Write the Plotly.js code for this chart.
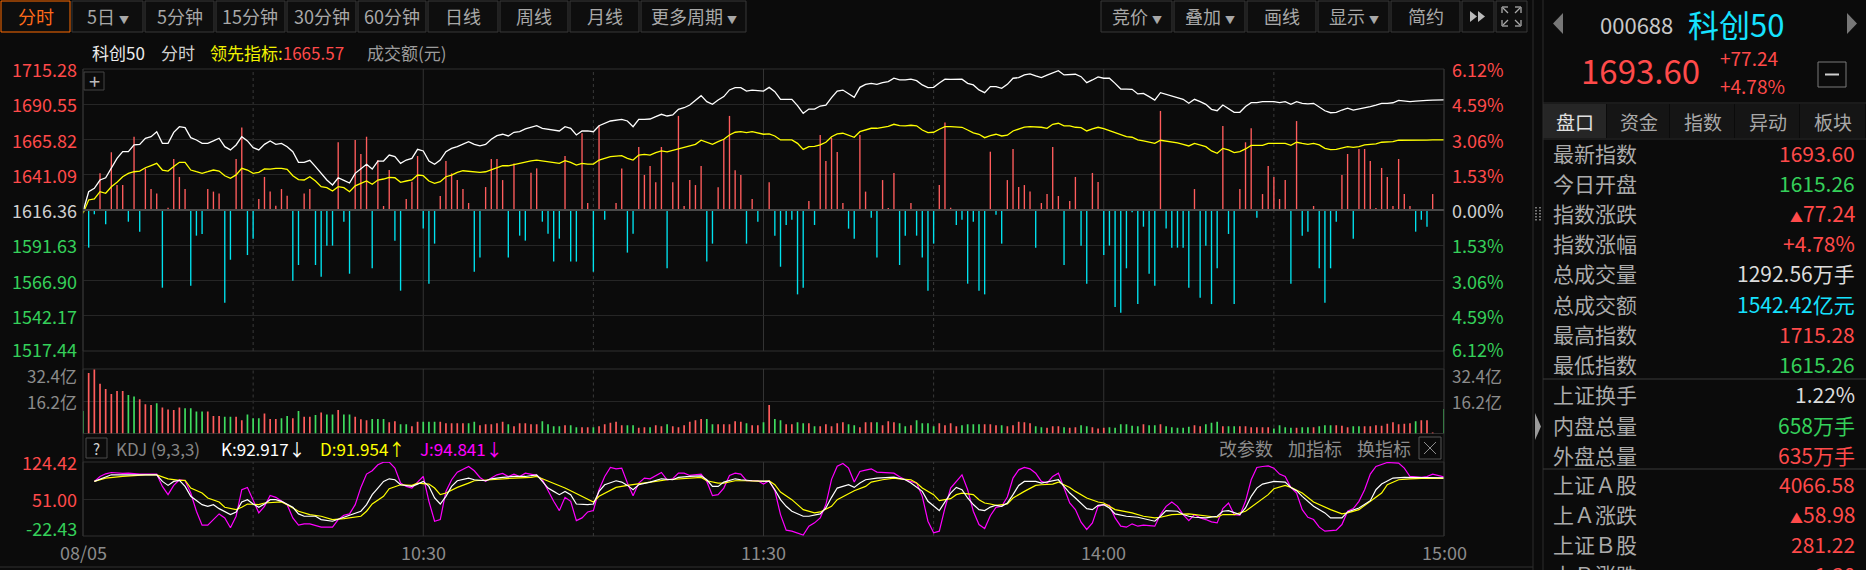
<!DOCTYPE html>
<html><head><meta charset="utf-8">
<script src="https://cdn.plot.ly/plotly-3.0.1.min.js"></script>
<style>html,body{margin:0;padding:0;background:#0b0b0b;overflow:hidden}#chart{width:1866px;height:570px}</style>
</head><body><div id="chart"></div>
<script>
// ---------------- DATA ----------------
const prevClose = 1616.36;
const priceTicks = [1715.28,1690.55,1665.82,1641.09,1616.36,1591.63,1566.90,1542.17,1517.44];
const pctTicks = ['6.12%','4.59%','3.06%','1.53%','0.00%','1.53%','3.06%','4.59%','6.12%'];
const volTicks = [32.4,16.2];
const volTickText = ['32.4亿','16.2亿'];
const kdjTicks = [124.42,51.00,-22.43];
const kdjTickText = ['124.42','51.00','-22.43'];
const timeTickIdx = [0,60,120,180,240];
const timeTickText = ['08/05','10:30','11:30','14:00','15:00'];
const solidTimeIdx = [60,120,180];
const dotTimeIdx = [30,90,150,210];

// white line: minute index, index value
const pricePts = [[0,1615.26],[1,1629.2],[2,1631.6],[3,1637.4],[4,1639.0],[5,1645.6],[6,1652.6],[7,1657.3],[8,1657.3],[9,1662.0],[10,1662.4],[11,1666.7],[12,1667.8],[13,1671.3],[14,1663.1],[15,1663.1],[16,1670.8],[17,1674.8],[18,1674.1],[19,1667.1],[20,1665.5],[21,1663.1],[22,1663.1],[23,1664.8],[24,1666.7],[25,1660.8],[26,1658.5],[27,1662.0],[28,1667.8],[29,1664.8],[30,1660.1],[31,1658.5],[32,1662.4],[33,1664.8],[34,1662.4],[35,1663.1],[36,1660.8],[37,1657.3],[38,1649.8],[39,1649.8],[40,1651.2],[41,1646.8],[42,1642.1],[43,1637.4],[44,1633.9],[45,1639.0],[46,1637.2],[47,1635.3],[48,1642.1],[50,1648.4],[51,1645.1],[52,1650.7],[53,1650.7],[54,1654.9],[55,1653.8],[56,1649.1],[57,1651.4],[58,1652.6],[59,1658.9],[60,1657.8],[61,1650.7],[62,1648.4],[63,1651.4],[64,1657.3],[65,1659.6],[66,1660.8],[68,1664.3],[69,1662.4],[70,1661.3],[71,1662.4],[72,1666.0],[73,1668.5],[74,1669.5],[75,1668.3],[76,1670.9],[77,1671.3],[78,1673.2],[80,1675.5],[81,1673.7],[82,1673.2],[83,1672.5],[84,1671.8],[85,1674.8],[86,1673.7],[87,1669.0],[88,1671.8],[89,1671.8],[90,1671.3],[91,1675.5],[92,1677.2],[93,1678.8],[95,1680.0],[96,1678.8],[97,1674.8],[98,1680.0],[99,1680.0],[100,1680.2],[101,1681.8],[102,1683.5],[103,1682.3],[104,1683.0],[105,1687.0],[106,1688.1],[107,1690.0],[108,1693.5],[109,1696.6],[110,1692.4],[111,1690.5],[112,1693.5],[113,1695.9],[114,1700.6],[115,1702.2],[116,1702.2],[117,1699.8],[118,1700.5],[119,1700.2],[120,1699.8],[121,1702.4],[122,1699.4],[123,1694.0],[124,1694.0],[125,1694.0],[126,1689.6],[127,1684.2],[128,1687.2],[129,1687.2],[130,1689.3],[131,1690.0],[132,1695.2],[133,1699.8],[134,1700.5],[135,1698.2],[136,1695.4],[137,1702.4],[138,1704.5],[139,1705.2],[140,1704.5],[141,1705.7],[142,1706.4],[143,1708.8],[144,1707.6],[145,1707.6],[146,1708.1],[147,1707.1],[148,1704.1],[149,1702.2],[150,1702.4],[151,1705.5],[152,1708.1],[153,1708.0],[154,1708.0],[155,1708.1],[156,1705.2],[157,1704.1],[158,1700.6],[159,1698.7],[160,1702.9],[161,1702.9],[162,1701.7],[163,1704.5],[164,1708.8],[165,1709.2],[166,1711.1],[167,1711.8],[168,1710.4],[169,1709.2],[170,1711.0],[171,1712.7],[172,1714.1],[173,1711.1],[174,1711.1],[175,1711.6],[176,1709.9],[177,1705.7],[178,1707.6],[179,1709.7],[180,1708.8],[181,1708.8],[182,1705.2],[183,1701.2],[184,1701.2],[185,1701.0],[186,1697.8],[187,1698.2],[188,1695.9],[189,1693.5],[190,1698.7],[191,1697.6],[192,1696.6],[193,1695.4],[194,1694.0],[195,1691.2],[196,1694.0],[197,1692.4],[198,1690.5],[199,1687.0],[200,1686.0],[201,1690.0],[202,1687.7],[203,1684.9],[204,1684.9],[205,1689.0],[206,1691.7],[207,1691.7],[208,1692.4],[209,1692.4],[210,1692.4],[211,1691.7],[212,1692.4],[213,1690.5],[214,1692.4],[215,1691.2],[216,1690.8],[217,1691.2],[218,1688.5],[219,1686.0],[220,1684.6],[221,1684.9],[222,1686.5],[223,1687.8],[224,1686.5],[225,1687.2],[226,1687.8],[227,1688.9],[228,1690.0],[229,1691.2],[230,1691.2],[231,1691.6],[232,1693.3],[233,1692.8],[234,1692.4],[235,1692.8],[236,1693.3],[237,1693.3],[238,1693.4],[239,1693.5],[240,1693.6]];

// yellow line: 领先指标
const leadPts = [[0,1614.0],[1,1623.4],[2,1624.1],[3,1629.2],[4,1628.1],[5,1632.7],[6,1635.8],[7,1639.7],[8,1642.0],[9,1643.2],[10,1643.7],[11,1646.0],[12,1647.5],[13,1649.1],[14,1644.4],[15,1643.7],[16,1646.8],[17,1649.8],[18,1649.8],[19,1644.4],[20,1643.2],[21,1642.1],[22,1643.2],[23,1644.4],[24,1643.7],[25,1640.4],[26,1638.6],[27,1641.0],[28,1645.6],[29,1644.4],[30,1642.1],[31,1642.8],[32,1645.2],[33,1645.0],[34,1645.6],[35,1645.6],[36,1644.9],[37,1640.4],[38,1637.7],[39,1637.4],[40,1639.7],[41,1636.7],[42,1632.7],[43,1632.0],[44,1629.7],[45,1632.7],[46,1632.0],[47,1629.2],[48,1633.3],[50,1636.7],[51,1634.4],[52,1637.4],[53,1638.1],[54,1639.3],[55,1639.0],[56,1635.8],[57,1636.7],[58,1637.4],[59,1640.9],[60,1640.4],[61,1636.7],[62,1635.1],[63,1636.2],[64,1639.7],[65,1640.9],[66,1642.8],[67,1643.9],[68,1643.5],[69,1643.2],[70,1642.8],[71,1643.2],[72,1644.5],[73,1645.6],[74,1647.4],[75,1647.4],[76,1648.4],[77,1649.1],[78,1650.3],[79,1650.9],[80,1651.4],[81,1650.7],[82,1650.3],[83,1649.5],[84,1649.1],[85,1651.0],[86,1649.8],[87,1647.9],[88,1649.1],[89,1648.6],[90,1648.6],[91,1651.4],[92,1652.6],[93,1653.8],[95,1654.5],[96,1652.6],[97,1651.4],[98,1654.9],[99,1655.4],[100,1654.9],[101,1656.6],[102,1657.8],[103,1657.1],[104,1658.2],[105,1659.6],[106,1660.6],[107,1661.5],[108,1662.4],[109,1665.3],[110,1663.6],[111,1662.4],[112,1664.3],[113,1666.0],[114,1669.0],[115,1670.9],[116,1671.3],[117,1670.6],[118,1671.3],[119,1670.5],[120,1669.5],[121,1669.8],[122,1668.3],[123,1665.5],[124,1665.5],[125,1665.5],[126,1663.1],[127,1658.9],[128,1660.8],[129,1661.0],[130,1662.0],[131,1663.9],[132,1667.8],[133,1669.7],[134,1670.2],[135,1669.0],[136,1667.4],[137,1671.3],[138,1672.7],[139,1673.7],[140,1673.7],[141,1674.1],[142,1675.0],[143,1676.5],[144,1675.6],[145,1675.4],[146,1675.8],[147,1675.4],[148,1672.5],[149,1670.6],[150,1670.9],[151,1673.0],[152,1674.8],[153,1674.8],[154,1674.8],[155,1674.4],[156,1672.5],[157,1670.5],[158,1669.5],[159,1667.1],[160,1668.5],[161,1669.5],[162,1668.3],[163,1668.8],[164,1671.8],[165,1673.0],[166,1674.5],[167,1674.8],[168,1674.8],[169,1674.4],[170,1673.7],[171,1676.5],[172,1677.2],[173,1675.4],[174,1675.4],[175,1674.4],[176,1674.1],[177,1671.8],[178,1673.2],[179,1674.4],[180,1673.5],[181,1672.0],[182,1670.5],[183,1669.5],[184,1667.8],[185,1667.4],[186,1665.5],[187,1664.8],[188,1663.7],[189,1663.1],[190,1665.3],[191,1664.8],[192,1664.3],[193,1663.5],[194,1662.4],[195,1661.3],[196,1663.1],[197,1662.0],[198,1660.8],[199,1657.8],[200,1656.1],[201,1659.6],[202,1658.5],[203,1656.6],[204,1657.3],[205,1659.2],[206,1661.7],[207,1661.7],[208,1661.7],[209,1663.1],[210,1663.1],[211,1663.1],[212,1663.1],[213,1661.7],[214,1663.9],[215,1663.1],[216,1662.4],[217,1663.1],[218,1662.0],[219,1659.6],[220,1658.7],[221,1658.9],[222,1660.0],[223,1660.8],[224,1660.3],[225,1660.8],[226,1662.0],[227,1662.4],[228,1662.8],[229,1663.9],[230,1664.0],[231,1664.3],[232,1665.3],[233,1665.3],[234,1664.9],[235,1665.3],[236,1665.4],[237,1665.4],[238,1665.5],[239,1665.5],[240,1665.57]];

// red / cyan bars around the previous close (index points)
const barPts = [[1,-26.4],[2,-3],[3,25.7],[4,-10],[5,40.5],[6,17.5],[7,17.5],[8,-8.2],[9,51.4],[10,-15.2],[11,29.2],[12,14.7],[13,11.5],[14,-54.5],[15,1.6],[16,35.8],[17,23.2],[18,14.7],[19,-53.1],[20,-18],[21,-16.8],[22,14.7],[23,12.9],[24,11.5],[25,-65],[26,-34.9],[27,35.8],[28,57.8],[29,-31.6],[30,-20.1],[31,7.7],[32,23.2],[33,12.9],[34,3],[35,14.7],[36,10],[37,-49.6],[38,-38.6],[39,11.5],[40,14.7],[41,-38.6],[42,-46.8],[43,-25],[44,-25],[45,47.5],[46,-8.2],[47,-44.7],[48,49.1],[49,39.3],[50,51.4],[51,-40.9],[52,35.1],[53,2.8],[54,28.1],[55,-21.5],[56,-56.6],[57,7.7],[58,19.9],[59,37.9],[60,-12.9],[61,-51.7],[62,-23.6],[63,9.8],[64,34.4],[65,25.7],[66,21],[67,14.7],[68,4.9],[69,-43.3],[70,-33.4],[71,16.1],[72,35.8],[73,35.8],[74,21],[75,-33.4],[76,32.7],[77,-18],[78,-21.5],[79,26.2],[80,29.2],[81,-8.2],[82,-16.6],[83,-36.2],[84,-20.1],[85,37.9],[86,-36.2],[87,-36.2],[88,53.8],[89,4.9],[90,-43.3],[91,59.2],[92,-6.8],[94,4.9],[95,29.2],[96,-29.9],[97,-16.6],[98,44.2],[99,24.6],[100,30.9],[101,19.4],[102,44.2],[103,-40.9],[104,19.4],[105,66],[106,2.8],[107,21],[108,17.5],[109,30.9],[110,-36.2],[111,-23.6],[112,15.9],[113,49.8],[114,66],[115,27.8],[116,24.6],[117,-23.6],[118,7.7],[119,-8.2],[121,19.4],[122,-18],[123,-39.8],[124,-10.5],[125,-6.8],[126,-59.2],[127,-54.5],[128,6.3],[129,-10.5],[130,52.6],[131,34.4],[132,50.7],[133,40.7],[134,4.9],[135,-13.1],[136,-20.1],[137,52.6],[138,12.9],[139,-5.4],[140,-33.4],[141,21],[142,1.4],[143,26],[144,-38.6],[145,-18],[146,4.9],[147,-18],[148,-33.4],[149,-56.6],[150,-23.6],[151,17.5],[152,61.3],[153,1.6],[154,-10.5],[155,-6.8],[156,-51.7],[157,-8.2],[158,-56.6],[159,-59.2],[160,40.9],[161,-3.3],[162,-23.6],[163,21],[164,42.8],[165,16.1],[166,17.5],[167,12.9],[168,-26.4],[169,4.9],[170,11.2],[171,44.2],[172,9.8],[173,-38.6],[174,6.3],[175,23.2],[176,-25],[177,-51.7],[178,26],[179,19.6],[180,-31.6],[181,-25],[182,-68],[183,-72],[184,-40.9],[185,-1.6],[186,-66],[187,-11.7],[188,-44.7],[189,-53.1],[190,69.5],[191,-12.9],[192,-26.4],[193,-26.4],[194,-26.4],[195,-54.5],[196,14.7],[197,-61.5],[198,-25],[199,-66],[200,-40.9],[201,58.9],[202,-16.8],[203,-66],[204,14.7],[205,47.5],[206,57.3],[207,-5.4],[208,11.2],[209,30.9],[210,23.2],[211,7.7],[212,21],[213,-51.7],[214,62.4],[215,-18],[216,-15.2],[217,2.8],[218,-40.9],[219,-65],[220,-40.9],[221,-8.2],[222,24.6],[223,39.3],[224,-20.1],[225,42.8],[226,42.8],[227,34.4],[228,1.4],[229,29.5],[230,23.2],[231,2.8],[232,35.8],[233,11.2],[234,2.8],[235,-15.2],[236,-6.8],[237,-11.7],[238,11.2]];

// turnover per minute (亿元) and direction (1 = up / red, 0 = down / green)
const volume = [11.3,30.4,32.1,25,22.4,19.9,21.4,21.4,19.4,18.6, 17.2,14.7,14.3,15.2,13,12.1,11.8,13,12.7,12.7, 11,11,11,8.8,8.8,8.4,8.4,8.4,6.7,9.6, 7.6,7.6,10.1,7.3,7.3,7.6,8.8,7.6,11.3,8.4, 8.4,9.3,10.5,9.6,9.6,11.8,9.6,9.6,8.4,7.1, 6.7,7.3,7.3,7.3,5.6,6.2,4.6,4.6,3.7,5.9, 5.9,5.9,5.9,5.9,5.1,5.1,5.1,5.1,5.1,5.9, 4.2,4.6,4.6,5.1,5.9,4.6,3.7,5.1,5.1,4.6, 4.6,6.2,4.6,3.7,3.7,4.2,4.2,3.2,3.2,3.2, 3.2,3.7,4.6,5.4,5.9,4.2,4.2,4.2,2.9,3.2, 3.2,4.2,3.7,4.6,3.7,3.2,4.2,5.9,6.7,7.3, 7.3,4.6,4.6,4.6,4.6,6.2,5.9,5.1,4.2,4.2, 5.6,14.3,7.3,6.7,4.6,4.6,5.6,5.1,5.1,3.7, 3.7,4.6,3.7,5.1,5.6,4.6,4.2,3.2,5.6,5.6, 5.6,4.2,6.2,5.6,5.1,3.7,4.2,6.7,5.1,5.1, 3.7,5.1,4.2,5.1,3.7,4.2,4.6,4.6,4.6,4.6, 4.6,4.2,4.2,3.7,4.2,5.9,5.6,5.1,3.7,3.2, 2.9,3.7,3.7,3.2,2.9,3.2,4.2,3.7,3.2,2.5, 2.9,3.2,2.9,4.6,4.6,3.9,3.7,4.6,4.2,4.2, 4.6,3.7,3.2,2.9,2.9,3.4,4.2,3.7,4.7,5.4, 5.9,3.7,3.7,3.7,3.7,3.7,3.2,3.2,3.2,3.2, 2.5,4.2,3.2,2.9,2.9,3.2,3.2,3.2,3.7,4.2, 4.2,4.2,3.9,3.2,3.7,3.7,3.7,3.7,4.2,3.9, 4.9,5.6,4.6,4.9,5.1,6.2,6.7,6.7,0.5,0, 12.3];
const volUp = [0,1,1,1,1,1,1,1,0,0, 1,1,1,0,1,1,1,1,0,0, 0,0,1,1,1,0,0,1,1,0, 0,0,1,1,1,0,0,1,0,1, 1,0,1,0,0,1,0,0,1,1, 1,0,0,0,1,1,0,0,1,1, 0,0,0,1,1,1,1,1,0,0, 1,1,1,1,1,0,1,1,1,1, 1,0,0,0,0,1,0,0,1,1, 0,1,1,1,1,1,0,0,1,1, 0,1,1,0,1,1,1,1,1,1, 0,0,1,1,1,1,1,0,1,1, 0,1,0,0,1,1,0,0,1,0, 1,1,1,1,1,0,0,1,1,1, 0,1,1,1,0,0,1,0,0,0, 0,1,1,1,1,0,0,0,0,1, 1,1,0,1,1,1,1,1,0,0, 1,1,1,0,1,1,0,0,1,1, 1,0,0,0,0,0,0,1,0,0, 1,0,0,0,0,0,1,1,0,0, 0,1,0,0,1,1,1,1,1,1, 0,0,0,0,1,0,0,1,0,0, 0,1,1,1,0,0,1,1,1,1, 1,1,1,1,1,0,1,1,1,1, 0];

// KDJ (9,3,3)
const kPts = [[2,85.9],[4,95.7],[5,99],[9,99],[13,99],[14,85.9],[15,78],[16,85.9],[17,87.8],[18,76],[19,56.3],[21,39.8],[22,36.5],[23,39.8],[24,31.9],[26,20.1],[27,25.3],[28,45.1],[29,49.7],[30,41.1],[31,34.5],[32,41.1],[33,49.7],[34,49.7],[35,46.4],[37,34.5],[38,21.4],[39,16.8],[41,16.8],[42,10.2],[44,6.9],[46,14.8],[47,18.8],[49,26.7],[50,39.8],[51,59.6],[52,72.7],[53,85.9],[54,91.1],[55,89.2],[56,79.3],[58,76],[59,80.6],[60,85.9],[61,76],[62,53],[63,41.1],[64,56.3],[65,76],[66,87.2],[68,92.5],[69,89.2],[71,87.2],[72,91.1],[74,93.8],[76,95.7],[78,95.7],[79,97.7],[80,99],[81,85.9],[82,72.7],[83,66.1],[84,59.6],[85,66.1],[86,59.6],[87,41.1],[88,40],[89,39.8],[90,41.1],[91,66.1],[92,79.3],[94,87.2],[95,84.6],[96,78],[97,69.4],[98,79.3],[100,84.6],[101,87.2],[102,91.1],[104,89.2],[105,93.8],[107,95.7],[109,97],[110,89.2],[111,76],[112,76],[113,84.6],[115,91.1],[116,89.2],[118,87.2],[120,85.9],[121,85.9],[122,69.4],[123,49.7],[124,36.5],[125,26.7],[127,16.8],[128,16.8],[130,21.4],[131,33.2],[132,54.3],[133,72.7],[135,79.3],[136,74],[137,82.6],[138,89.2],[140,92.5],[142,94.4],[143,94.4],[145,89.2],[146,82.6],[148,66.1],[149,46.4],[151,28],[152,46.4],[153,62.8],[154,74],[155,69.4],[156,53],[157,40],[158,30],[159,28],[160,35],[161,38.5],[162,36.5],[163,43.1],[164,59.6],[165,78],[166,85.9],[168,85.9],[169,82.6],[171,87.2],[172,89.2],[173,76],[174,62.8],[175,53],[177,31.9],[178,29.9],[179,38.5],[180,39.8],[181,33.2],[182,21.4],[184,16.8],[186,14.8],[187,12.2],[189,6.9],[190,16.8],[191,28],[193,26.7],[194,20.1],[195,16.8],[196,14.8],[198,13.5],[200,16.8],[201,26.7],[202,28],[204,20.1],[205,33.2],[206,56.3],[207,72.7],[208,80.6],[210,85.9],[212,84.6],[213,74],[214,67.5],[215,56.3],[217,36.5],[219,23.4],[220,13.5],[222,13.5],[223,25.3],[225,33.2],[227,47.7],[228,69.4],[229,80.6],[231,92.5],[233,93.8],[234,93.8],[236,92.5],[238,92.5],[240,92.917]];
const dPts = [[2,85.9],[4,92.5],[7,95.7],[9,97.7],[11,99],[13,99],[15,91.1],[17,87.8],[18,87.8],[19,72.7],[21,62.8],[22,53],[24,45.1],[25,34.5],[27,29.9],[28,34.5],[29,41.1],[31,39.8],[32,43.1],[35,45.1],[36,39.8],[38,26.7],[40,20.1],[42,16.8],[44,10.2],[46,12.2],[47,13.5],[49,16.8],[50,26.7],[51,41.1],[53,56.3],[54,71.4],[56,79.3],[58,78],[59,82.6],[61,80.6],[62,72.7],[63,59.6],[64,62.8],[66,74],[68,82.6],[69,87.2],[72,89.2],[74,91.1],[76,92.5],[79,93.8],[80,95.7],[81,91.1],[83,82.6],[85,72.7],[86,67.5],[88,56.3],[89,49.7],[90,45.1],[91,56.3],[93,67.5],[94,74],[96,78],[97,79.3],[99,82.6],[101,85.9],[103,89.2],[106,91.1],[108,93.8],[109,93.8],[110,87.2],[112,82.6],[113,82.6],[115,87.2],[117,87.2],[120,85.9],[121,87.2],[122,79.3],[123,64.8],[125,49.7],[127,29.9],[129,23.4],[130,25.3],[132,36.5],[133,49.7],[135,60.9],[136,67.5],[138,76],[139,84.6],[141,89.2],[143,92.5],[144,91.1],[146,89.2],[147,82.6],[148,72.7],[150,59.6],[151,47.7],[153,51.7],[154,59.6],[155,62.8],[157,59.6],[158,49.7],[159,43.1],[160,41.1],[161,38.5],[163,41.1],[164,53],[166,66.1],[168,78],[169,79.3],[171,80.6],[172,84.6],[174,74],[175,66.1],[177,53],[179,45.1],[180,43.1],[182,29.9],[185,23.4],[187,16.8],[189,13.5],[190,14.8],[192,20.1],[195,21.4],[197,18.8],[200,14.8],[201,20.1],[203,20.1],[205,26.7],[207,43.1],[209,59.6],[210,71.4],[212,78],[213,74],[215,62.8],[217,45.1],[220,29.9],[222,21.4],[223,23.4],[225,29.9],[227,46.4],[229,62.8],[230,79.3],[232,89.2],[234,91.1],[237,92.5],[240,91.954]];
const jPts = [[2,85.9],[3,95.7],[4,101],[5,103.6],[7,101.7],[8,102.3],[10,100.4],[11,100.4],[13,100.4],[14,76],[15,59.6],[16,78],[17,89.2],[18,87.2],[19,62.8],[20,26.7],[21,-1],[22,-1],[23,10.2],[24,21.4],[25,13.5],[26,-6.2],[27,16.8],[28,69.4],[29,74],[30,49.7],[31,23.4],[32,36.5],[33,58.2],[34,54.3],[35,47.7],[36,39.8],[37,13.5],[38,-1],[39,1.7],[40,1.7],[42,-4.9],[43,-4.9],[44,-4.9],[45,10.2],[46,18.8],[47,21.4],[48,39.8],[49,74],[50,100.4],[51,107],[52,118.8],[53,124],[54,124],[55,112.2],[56,82.6],[57,76],[58,72.7],[59,84.6],[60,95.7],[61,46.4],[62,6.9],[63,10.2],[64,66.1],[65,89.2],[66,104.3],[68,115.5],[69,107],[70,93.8],[71,85.9],[72,92.5],[73,99],[74,101.7],[75,95.7],[76,100.4],[77,95.7],[78,102.3],[79,100.4],[80,98],[81,89.2],[82,66.1],[83,46.4],[84,28],[85,54.3],[86,46.4],[87,8.2],[88,13.5],[89,25.3],[90,28],[91,69.4],[92,95.7],[93,113.5],[94,110.9],[95,112.2],[96,82.6],[97,57.6],[98,82.6],[99,92.5],[100,91.1],[101,97.7],[102,103.6],[103,89.2],[104,91.1],[105,102.3],[106,102.3],[107,97.7],[108,99],[109,100.4],[110,85.9],[111,57.6],[112,59.6],[113,72.7],[114,97.7],[115,102.3],[116,100.4],[117,87.2],[119,87.2],[120,80.6],[121,87.2],[122,67.5],[123,20],[124,-10.9],[125,-12.8],[127,-20.7],[128,-3],[129,3.6],[130,13.5],[131,40],[132,90],[133,116],[134,121.4],[135,112.2],[136,84.6],[137,105.6],[138,108.2],[139,110.9],[140,104.3],[141,103.6],[143,102.3],[144,95],[145,89.2],[147,82.6],[148,56.3],[149,6.9],[150,-16.1],[151,-12.8],[152,33.2],[153,72.7],[154,85.9],[155,99],[156,69.4],[157,26.7],[158,0.3],[159,-7.6],[160,17.8],[161,34.5],[162,36.5],[163,55],[164,92.5],[165,108.9],[166,113.5],[167,110.9],[168,102.3],[169,85.9],[170,82.6],[171,95.7],[172,102.3],[173,72.7],[174,43.1],[175,30],[176,5],[177,-9.5],[178,3.6],[179,36.5],[180,39.8],[181,38.5],[182,13.5],[183,-3],[184,-4.9],[185,1.7],[186,-3],[187,-1],[189,-3],[190,20.1],[191,36.5],[192,45.1],[193,36.5],[194,20.1],[195,8.2],[196,20.1],[197,13.5],[198,10.2],[199,5.6],[200,3.6],[201,31.9],[202,43.1],[203,20.1],[204,18.8],[205,46.4],[206,89.2],[207,113.5],[208,115.5],[209,116.8],[210,112.2],[211,100.4],[212,95.7],[213,74],[214,62.8],[215,29.9],[216,14.8],[217,10.2],[218,-4.9],[219,-12.8],[221,-10.9],[222,0.3],[223,26.7],[224,31.9],[225,46.4],[226,69.4],[227,100.4],[228,115.5],[230,123.4],[232,122.1],[233,112.2],[234,95.7],[236,93.8],[237,95.7],[238,100.4],[240,94.841]];

// right info panel
const infoLabels = ['最新指数','今日开盘','指数涨跌','指数涨幅','总成交量','总成交额','最高指数','最低指数','上证换手','内盘总量','外盘总量','上证Ａ股','上Ａ涨跌','上证Ｂ股','上Ｂ涨跌'];
const infoValues = ['1693.60','1615.26','▲77.24','+4.78%','1292.56万手','1542.42亿元','1715.28','1615.26','1.22%','658万手','635万手','4066.58','▲58.98','281.22','+1.30'];
const infoKind = ['up','down','up','up','flat','amt','up','down','flat','down','up','up','up','up','up'];
const toolLeft = ['分时','5日','5分钟','15分钟','30分钟','60分钟','日线','周线','月线','更多周期'];
const toolLeftDrop = [0,1,0,0,0,0,0,0,0,1];
const toolRight = ['竞价','叠加','画线','显示','简约'];
const toolRightDrop = [1,1,0,1,0];
const tabs = ['盘口','资金','指数','异动','板块'];

// ---------------- LAYOUT HELPERS ----------------
const W=1866,H=570;
const PX=x=>x/W, PY=y=>1-y/H;
const F='"Noto Sans CJK SC","Noto Sans",sans-serif';
const RED='#ff4a4a', GREEN='#35d05a', CYAN='#16e2ff', GRAY='#9a9a9a', LINE='#303030';
const plotL=83, plotR=1444, mainTop=69, mainBot=351, volTop=369, volBot=433.5, kdjTop=462, kdjBot=536;
const kindColor = {up:RED, down:GREEN, flat:'#dcdcdc', amt:CYAN};

const ann=[], shp=[];
function T(x,y,text,color,size,xa,extra){ann.push(Object.assign({xref:'paper',yref:'paper',x:PX(x),y:PY(y),text:text,showarrow:false,xanchor:xa||'left',yanchor:'middle',font:{family:F,size:size,color:color}},extra||{}));}
function R(x0,y0,x1,y1,lc,fill,lw){shp.push({type:'rect',xref:'paper',yref:'paper',x0:PX(x0),x1:PX(x1),y0:PY(y0),y1:PY(y1),line:{color:lc||'rgba(0,0,0,0)',width:lw===undefined?1:lw},fillcolor:fill||'rgba(0,0,0,0)',layer:'below'});}
function L(x0,y0,x1,y1,c,w,dash){shp.push({type:'line',xref:'paper',yref:'paper',x0:PX(x0),x1:PX(x1),y0:PY(y0),y1:PY(y1),line:{color:c,width:w||1,dash:dash||'solid'}});}
function P(pts,c){let d='M'+pts.map(p=>PX(p[0])+','+PY(p[1])).join(' L')+' Z';shp.push({type:'path',xref:'paper',yref:'paper',path:d,fillcolor:c,line:{width:0}});}
const tri = t => t.replace('▲','<span style="font-size:13px">▲</span>');

// toolbar left
const tlEdges=[0,71,144,215,286,357,427,499,569,640,747];
toolLeft.forEach((t,i)=>{
  const x0=tlEdges[i]+1,x1=tlEdges[i+1]-1;
  R(x0,1,x1,32,i===0?'#ff6a00':'#383838','#0e0e0e',1);
  const lab=t+(toolLeftDrop[i]?' <span style="font-size:10px">▼</span>':'');
  T((x0+x1)/2,16.5,lab,i===0?'#ff6a1a':'#a8a8a8',18,'center');
});
const trEdges=[1100,1173,1246,1317,1390,1461,1495,1528];
for(let i=0;i<7;i++){R(trEdges[i]+1,1,trEdges[i+1]-1,32,'#383838','#0e0e0e',1);}
toolRight.forEach((t,i)=>{const lab=t+(toolRightDrop[i]?' <span style="font-size:10px">▼</span>':'');T((trEdges[i]+trEdges[i+1])/2,16.5,lab,'#a8a8a8',18,'center');});
P([[1470,11],[1477,16.5],[1470,22]],'#bbbbbb');P([[1478,11],[1485,16.5],[1478,22]],'#bbbbbb');
// fullscreen icon
[[1503,8,1508,13],[1520,8,1515,13],[1503,25,1508,20],[1520,25,1515,20]].forEach(a=>{L(a[0],a[1],a[2],a[3],'#aaaaaa',1.3);});
[[1502,7,1508,7],[1502,7,1502,13],[1515,7,1521,7],[1521,7,1521,13],[1502,26,1508,26],[1502,20,1502,26],[1515,26,1521,26],[1521,20,1521,26]].forEach(a=>L(a[0],a[1],a[2],a[3],'#aaaaaa',1.3));

// title line
T(90,53,'科创50','#ececec',17);
T(159,53,'分时','#d0d0d0',17);
T(208,53,'<span style="color:#f2f200">领先指标:</span><span style="color:'+RED+'">1665.57</span>','#f2f200',17);
T(365,53,'成交额(元)','#9c9c9c',17);

// panel frames
R(plotL,mainTop,plotR,mainBot,LINE,null,1);
R(plotL,volTop,plotR,volBot,LINE,null,1);
R(plotL,kdjTop,plotR,kdjBot,LINE,null,1);
L(plotL,mainTop,plotL,kdjBot,LINE,1);L(plotR,mainTop,plotR,kdjBot,LINE,1);
L(0,567,1533,567,LINE,1);
// zero line
shp.push({type:'line',xref:'paper',yref:'y',x0:PX(plotL),x1:PX(plotR),y0:prevClose,y1:prevClose,line:{color:'#4a4a4a',width:2}});
// time grid
['y','y2','y3'].forEach(a=>{
  solidTimeIdx.forEach(v=>shp.push({type:'line',xref:'x',yref:a+' domain',x0:v,x1:v,y0:0,y1:1,line:{color:'#333333',width:1},layer:'below'}));
  dotTimeIdx.forEach(v=>shp.push({type:'line',xref:'x',yref:a+' domain',x0:v,x1:v,y0:0,y1:1,line:{color:'#3a3a3a',width:1,dash:'dot'},layer:'below'}));
});
// + box
R(84,72,104,90,'#444444',null,1);
T(94,80.5,'+','#bbbbbb',20,'center');

// price axis labels
priceTicks.forEach((v,i)=>{
  const c = i<4?RED:(i===4?'#d0d0d0':GREEN);
  const ys = i===8?2:0;
  ann.push({xref:'paper',yref:'y',x:PX(79),y:v,yshift:ys,text:v.toFixed(2),showarrow:false,xanchor:'right',yanchor:'middle',font:{family:F,size:18,color:c}});
  ann.push({xref:'paper',yref:'y',x:PX(1450),y:v,yshift:ys,text:pctTicks[i],showarrow:false,xanchor:'left',yanchor:'middle',font:{family:F,size:18,color:c}});
});
volTicks.forEach((v,i)=>{
  ann.push({xref:'paper',yref:'y2',x:PX(79),y:v,yshift:i===0?-6:0,text:volTickText[i],showarrow:false,xanchor:'right',yanchor:'middle',font:{family:F,size:17,color:'#8c8c8c'}});
  ann.push({xref:'paper',yref:'y2',x:PX(1450),y:v,yshift:i===0?-6:0,text:volTickText[i],showarrow:false,xanchor:'left',yanchor:'middle',font:{family:F,size:17,color:'#8c8c8c'}});
});
kdjTicks.forEach((v,i)=>{
  ann.push({xref:'paper',yref:'y3',x:PX(79),y:v,yshift:i===2?8:0,text:kdjTickText[i],showarrow:false,xanchor:'right',yanchor:'middle',font:{family:F,size:18,color:i<2?RED:GREEN}});
});
timeTickIdx.forEach((v,i)=>{
  ann.push({xref:'x',yref:'paper',x:v,y:PY(552),text:timeTickText[i],showarrow:false,xanchor:'center',yanchor:'middle',font:{family:F,size:18,color:'#8c8c8c'}});
});

// KDJ header
R(86,438,107,458,'#4a4a4a',null,1);
T(96.5,448,'?','#cfcfcf',15,'center');
T(114,448,'KDJ (9,3,3)','#858585',17);
T(219,448,'K:92.917↓','#ffffff',17);
T(318,448,'D:91.954↑','#ffff00',17);
T(418,448,'J:94.841↓','#ff00ff',17);
T(1246,448,'改参数','#8c8c8c',18,'center');
T(1315,448,'加指标','#8c8c8c',18,'center');
T(1384,448,'换指标','#8c8c8c',18,'center');
R(1419,437,1441,459,'#555555',null,1);
L(1424,442,1436,454,'#8c8c8c',1);L(1436,442,1424,454,'#8c8c8c',1);

// right panel
L(1533,0,1533,570,'#2c2c2c',1);L(1543,0,1543,570,'#2c2c2c',1);
P([[1535,413],[1541,426.5],[1535,440]],'#9a9a9a');
[207,210,213,216,219].forEach(yy=>{R(1535,yy,1537,yy+1.5,null,'#777777',0);R(1539,yy,1541,yy+1.5,null,'#777777',0);});
P([[1563,13],[1553,23.5],[1563,34]],'#777777');
P([[1847,13],[1857,23.5],[1847,34]],'#777777');
T(1636,24,'000688','#c8c8c8',22,'center');
T(1686,23.5,'科创50',CYAN,31,'left');
T(1702,70,'1693.60',RED,33,'right');
T(1718,58,'+77.24',RED,19,'left');
T(1718,85,'+4.78%',RED,19,'left');
R(1818,62,1846,87,'#7a7a7a',null,1);
L(1825,74.5,1839,74.5,'#cfcfcf',2);
L(1543,103,1866,103,'#2c2c2c',1);
const tabEdges=[1543,1607,1670,1735,1800,1866];
tabs.forEach((t,i)=>{
  R(tabEdges[i],104,tabEdges[i+1]-1,138,null,i===0?'#262626':'#151515',0);
  T((tabEdges[i]+tabEdges[i+1])/2,121,t,i===0?'#e0e0e0':'#a8a8a8',19,'center');
});
L(1543,139,1866,139,'#2c2c2c',1);
const rowY=[153,183,213,243,273,304,334,364,394,425,455,484,514,544,574];
infoLabels.forEach((t,i)=>{
  T(1551,rowY[i],t,'#aaaaaa',21,'left');
  T(1857,rowY[i],tri(infoValues[i]),kindColor[infoKind[i]],21,'right');
});
L(1543,379,1866,379,'#3a3a3a',1);
L(1543,469,1866,469,'#3a3a3a',1);

// ---------------- TRACES ----------------
const xs=a=>a.map(p=>p[0]), ys=a=>a.map(p=>p[1]);
const traces=[
  {type:'bar',x:xs(barPts),y:ys(barPts),base:prevClose,width:0.24,marker:{color:barPts.map(p=>p[1]>=0?'#ff5c5c':'#00e2ee'),line:{width:0}},xaxis:'x',yaxis:'y',hoverinfo:'skip'},
  {type:'scatter',mode:'lines',x:xs(leadPts),y:ys(leadPts),line:{color:'#ffff00',width:1.3},xaxis:'x',yaxis:'y',hoverinfo:'skip'},
  {type:'scatter',mode:'lines',x:xs(pricePts),y:ys(pricePts),line:{color:'#ffffff',width:1.3},xaxis:'x',yaxis:'y',hoverinfo:'skip'},
  {type:'bar',x:volume.map((_,i)=>i),y:volume,width:0.3,marker:{color:volUp.map(u=>u?'#ff5c5c':'#3fdc5f'),line:{width:0}},xaxis:'x',yaxis:'y2',hoverinfo:'skip'},
  {type:'scatter',mode:'lines',x:xs(jPts),y:ys(jPts),line:{color:'#ff00ff',width:1.2},xaxis:'x',yaxis:'y3',hoverinfo:'skip'},
  {type:'scatter',mode:'lines',x:xs(dPts),y:ys(dPts),line:{color:'#ffff00',width:1.2},xaxis:'x',yaxis:'y3',hoverinfo:'skip'},
  {type:'scatter',mode:'lines',x:xs(kPts),y:ys(kPts),line:{color:'#ffffff',width:1.2},xaxis:'x',yaxis:'y3',hoverinfo:'skip'}
];
const ax={showticklabels:false,zeroline:false,showline:false,ticks:'',fixedrange:true};
const layout={
  width:W,height:H,margin:{l:0,r:0,t:0,b:0},paper_bgcolor:'#0b0b0b',plot_bgcolor:'rgba(0,0,0,0)',
  showlegend:false,hovermode:false,barmode:'overlay',
  xaxis:Object.assign({},ax,{domain:[PX(plotL),PX(plotR)],range:[0,240],showgrid:false,anchor:'y'}),
  yaxis:Object.assign({},ax,{domain:[PY(mainBot),PY(mainTop)],range:[priceTicks[8],priceTicks[0]],tickvals:priceTicks,showgrid:true,gridcolor:'#262626',gridwidth:1,anchor:'x'}),
  yaxis2:Object.assign({},ax,{domain:[PY(volBot),PY(volTop)],range:[0,volTicks[0]],tickvals:[volTicks[1]],showgrid:true,gridcolor:'#262626',anchor:'x'}),
  yaxis3:Object.assign({},ax,{domain:[PY(kdjBot),PY(kdjTop)],range:[kdjTicks[2],kdjTicks[0]],tickvals:[kdjTicks[1]],showgrid:true,gridcolor:'#262626',anchor:'x'}),
  annotations:ann,shapes:shp
};
Plotly.newPlot('chart',traces,layout,{staticPlot:true,displayModeBar:false});
</script></body></html>
